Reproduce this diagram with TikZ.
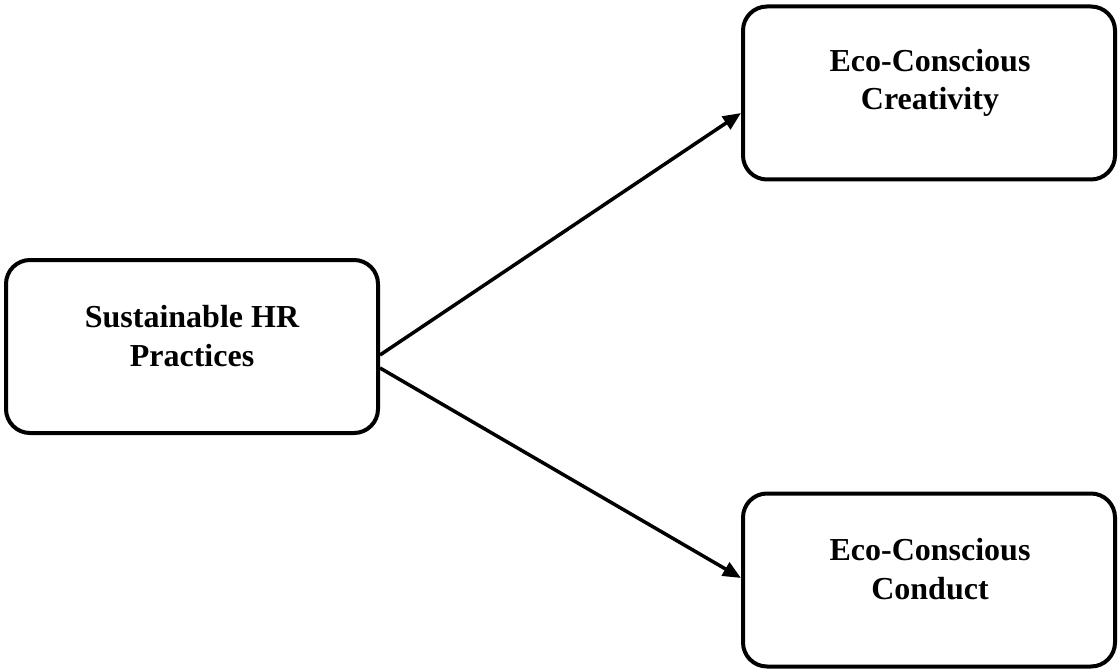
\documentclass[tikz,border=0pt]{standalone}
\usepackage{fontspec}
\setmainfont{Liberation Serif}
\usetikzlibrary{arrows.meta,calc}
\tikzset{
  box/.style={draw=black, line width=4pt, rounded corners=24pt, fill=white,
    minimum width=372pt, minimum height=173pt, inner sep=0pt},
  lbl/.style={anchor=base, align=center, inner sep=0pt,
    font=\fontsize{32}{38.7}\selectfont\bfseries},
  arr/.style={line width=3.5pt, -{Triangle[length=18pt,width=15pt]}},
}
\begin{document}
\begin{tikzpicture}[x=1pt,y=-1pt]
\useasboundingbox (0,0) rectangle (1118,671);
\node[box] (sus) at (192,346.5) {};
\node[box] (ecr) at (929,93) {};
\node[box] (eco) at (929,580) {};
\node[lbl] (tsus) at (192,366) {Sustainable HR\\Practices};
\node[lbl] (tecr) at (930,110) {Eco-Conscious\\Creativity};
\node[lbl] (teco) at (930,599) {Eco-Conscious\\Conduct};
\draw[arr] ($(sus.east)+(0,8.5)$) -- ($(ecr.west)+(0,20)$);
\draw[arr] ($(sus.east)+(0,21.5)$) -- ($(eco.west)+(0,-2)$);
\end{tikzpicture}
\end{document}
